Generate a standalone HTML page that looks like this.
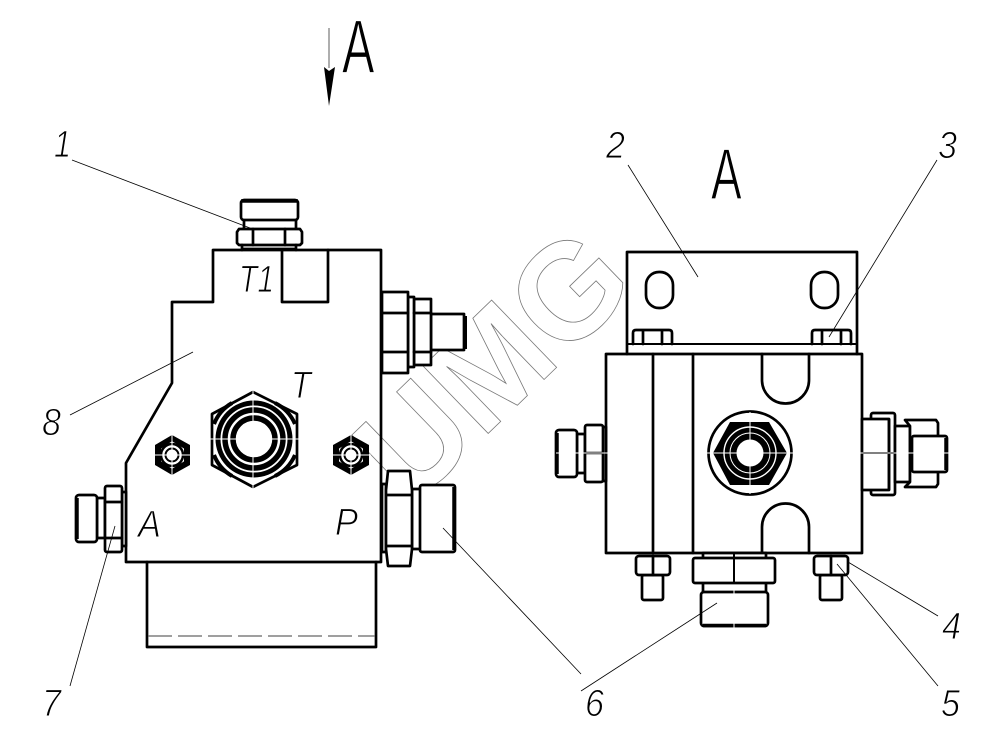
<!DOCTYPE html>
<html><head><meta charset="utf-8"><style>
html,body{margin:0;padding:0;background:#fff;width:998px;height:746px;overflow:hidden}
svg{display:block}
.t{font-family:"Liberation Sans",sans-serif;font-style:italic;fill:#000;stroke:#fff;stroke-width:1}
.b{font-family:"Liberation Sans",sans-serif;fill:#000;stroke:#fff;stroke-width:1.2}
.m{fill:none;stroke:#000;stroke-width:2.7;stroke-linejoin:round;stroke-linecap:round}
.w{fill:#fff;stroke:#000;stroke-width:2.7;stroke-linejoin:round}
.l{fill:none;stroke:#000;stroke-width:.8}
.c{fill:none;stroke:#fff;stroke-width:1}
</style></head><body>
<svg width="998" height="746" viewBox="0 0 998 746" xmlns="http://www.w3.org/2000/svg">
<!-- watermark -->
<text transform="translate(411,508) rotate(-44)" font-family="Liberation Sans, sans-serif" font-weight="700" font-size="136" fill="none" stroke="#777" stroke-width=".8">UMG</text>

<!-- arrow -->
<line x1="329" y1="28" x2="329" y2="68" stroke="#777" stroke-width="1.2"/>
<polygon points="324,67 329,71 335,67 329,106" fill="#000"/>
<text class="b" transform="translate(342,73) scale(.64,1)" font-size="76">A</text>
<text class="b" transform="translate(711,199) scale(.64,1)" font-size="72">A</text>

<!-- LEFT VIEW -->
<path class="m" d="M213,250H381V562H126V463L172,383V302H213Z"/>
<path class="m" d="M282,250V302H328V250"/>
<path class="m" d="M147,562V647H376V562"/>
<line x1="148" y1="636" x2="375" y2="636" stroke="#666" stroke-width="1.2" stroke-dasharray="24,6"/>

<!-- top fitting -->
<rect class="w" x="244" y="219" width="52" height="11"/>
<rect class="w" x="241" y="200" width="57" height="20" rx="3"/>
<line x1="241" y1="201" x2="298" y2="201" stroke="#000" stroke-width="3.5"/>
<path class="w" d="M239,229H300L302,232V243L300,245H239L237,243V232Z"/>
<path class="m" d="M253,229V245M285,229V245M242,245V250M296,245V250M242,249H296"/>

<!-- right upper fitting -->
<rect class="w" x="431" y="314" width="33" height="36"/>
<line x1="465" y1="316" x2="465" y2="349" stroke="#000" stroke-width="4"/>
<rect class="w" x="414" y="299" width="17" height="66"/>
<rect class="w" x="408" y="297" width="6" height="70"/>
<rect class="w" x="382" y="292" width="26" height="81"/>
<path class="m" d="M382,313H408M382,352H408M414,313H431M414,352H431"/>

<!-- A fitting -->
<rect class="w" x="97" y="498" width="8" height="40"/>
<rect class="w" x="76" y="495" width="21" height="47" rx="3"/>
<line x1="77" y1="498" x2="77" y2="539" stroke="#000" stroke-width="3.5"/>
<rect class="w" x="122" y="492" width="4" height="54"/>
<rect class="w" x="105" y="486" width="17" height="66" rx="2"/>
<path class="m" d="M105,502H122M105,538H122"/>

<!-- P fitting -->
<rect class="w" x="382" y="484" width="4" height="68"/>
<rect class="w" x="412" y="489" width="9" height="60"/>
<rect class="w" x="420" y="485" width="35" height="67" rx="2"/>
<line x1="454" y1="487" x2="454" y2="550" stroke="#000" stroke-width="3.5"/>
<path class="w" d="M388,471H410L412,490V549L410,566H388L386,549V490Z"/>
<path class="m" d="M387,495H411M387,546H411"/>

<!-- big hex T -->
<polygon class="w" points="253,392 297,414 297,465 253,487 212,465 212,414" stroke-width="2.5"/>
<path d="M214,424A42,42 0 0 1 232,403M275,403A42,42 0 0 1 295,424M295,455A42,42 0 0 1 275,476M232,476A42,42 0 0 1 214,455" fill="none" stroke="#000" stroke-width="4"/>
<circle cx="254" cy="439" r="36" fill="none" stroke="#000" stroke-width="5"/>
<circle cx="254" cy="439" r="29" fill="none" stroke="#000" stroke-width="5.5"/>
<circle cx="254" cy="439" r="21" fill="none" stroke="#000" stroke-width="5.5"/>
<path class="c" d="M253,388V490M208,439H300"/>

<!-- small hexes -->
<g>
<polygon points="172,435 190,445 190,465 172,475 155,465 155,445" fill="#000"/>
<polygon points="172,440 185,448 185,462 172,470 160,462 160,448" fill="#fff" stroke="#000" stroke-width="2"/>
<circle cx="172" cy="455" r="11" fill="none" stroke="#000" stroke-width="2.5"/>
<circle cx="172" cy="455" r="6.5" fill="#fff" stroke="#000" stroke-width="2"/>
<path class="c" d="M172,433V477M153,455H192"/>
<polygon points="351,435 369,445 369,465 351,475 333,465 333,445" fill="#000"/>
<polygon points="351,440 364,448 364,462 351,470 338,462 338,448" fill="#fff" stroke="#000" stroke-width="2"/>
<circle cx="351" cy="455" r="11" fill="none" stroke="#000" stroke-width="2.5"/>
<circle cx="351" cy="455" r="6.5" fill="#fff" stroke="#000" stroke-width="2"/>
<path class="c" d="M351,433V477M332,455H371"/>
</g>

<!-- RIGHT VIEW -->
<path class="m" d="M627,354V252H857V354"/>
<line x1="628" y1="344" x2="857" y2="344" stroke="#000" stroke-width="2"/>
<rect class="m" x="606" y="354" width="256" height="199"/>
<path class="m" d="M653,354V553M693,354V553"/>
<rect class="m" x="646" y="272" width="27" height="36" rx="13"/>
<rect class="m" x="811" y="272" width="27" height="36" rx="13"/>
<path class="m" d="M633,344V333Q633,330 636,330H669Q672,330 672,333V344M643,331V344M662,331V344"/>
<path class="m" d="M812,344V333Q812,330 815,330H848Q851,330 851,333V344M822,331V344M841,331V344"/>
<path class="m" d="M762,354V380A23,23 0 0 0 809,380V354"/>
<path class="m" d="M762,553V527A23,23 0 0 1 809,527V553"/>

<!-- center fitting -->
<circle cx="750" cy="453" r="41.5" fill="#fff" stroke="#000" stroke-width="2.7"/>
<polygon points="713,453 730,422 769,422 787,453 769,485 730,485" fill="#000"/>
<circle cx="750" cy="453" r="26" fill="none" stroke="#fff" stroke-width="1.4"/>
<circle cx="750" cy="453" r="20" fill="none" stroke="#fff" stroke-width="1"/>
<circle cx="750" cy="453" r="13.5" fill="#fff"/>
<path class="c" d="M750,412V494M706,453H794"/>

<!-- left fitting right view -->
<rect class="w" x="577" y="434" width="8" height="39"/>
<rect class="w" x="556" y="430" width="21" height="47" rx="3"/>
<line x1="557" y1="433" x2="557" y2="474" stroke="#000" stroke-width="3.5"/>
<rect class="w" x="603" y="427" width="3" height="54"/>
<rect class="w" x="585" y="425" width="18" height="57" rx="2"/>
<line x1="585" y1="453" x2="603" y2="453" stroke="#000" stroke-width="2.5"/>

<!-- right fitting right view -->
<rect class="w" x="871" y="413" width="24" height="82" rx="2"/>
<rect class="w" x="862" y="419" width="27" height="71"/>
<line x1="889" y1="419" x2="889" y2="490" stroke="#000" stroke-width="2.7"/>
<line x1="862" y1="453" x2="895" y2="453" stroke="#000" stroke-width="2"/>
<rect class="w" x="895" y="426" width="15" height="56"/>
<path class="w" d="M905,420H936L938,423V484L936,487H905L910,482V426Z"/>
<rect class="w" x="912" y="436" width="35" height="36" rx="2"/>
<line x1="946" y1="438" x2="946" y2="470" stroke="#000" stroke-width="3.5"/>
<path class="c" d="M860,453H950M556,453H608"/>

<!-- bottom bolts -->
<rect class="w" x="642" y="575" width="21" height="25" rx="2"/>
<rect class="w" x="636" y="556" width="34" height="19" rx="3"/>
<rect class="w" x="820" y="575" width="22" height="25" rx="2"/>
<rect class="w" x="814" y="556" width="34" height="19" rx="3"/>
<path class="m" d="M653,556V575M831,556V575"/>

<!-- bottom center fitting -->
<rect class="w" x="703" y="553" width="63" height="6"/>
<rect class="w" x="703" y="582" width="63" height="11"/>
<rect class="w" x="693" y="558" width="82" height="25" rx="2"/>
<rect class="w" x="701" y="592" width="67" height="34" rx="3"/>
<line x1="703" y1="625.5" x2="766" y2="625.5" stroke="#000" stroke-width="3.5"/>
<line x1="734" y1="553" x2="734" y2="583" stroke="#000" stroke-width="2"/>
<path class="c" d="M734,590V630"/>

<!-- leaders -->
<path class="l" d="M72,160L250,228"/>
<path class="l" d="M628,165L698,277"/>
<path class="l" d="M937,160L829,337"/>
<path class="l" d="M70,415L193,352"/>
<path class="l" d="M70,686L115,526"/>
<path class="l" d="M443,528L581,674"/>
<path class="l" d="M717,603L581,691"/>
<path class="l" d="M848,562L938,616"/>
<path class="l" d="M837,564L938,686"/>

<!-- labels -->
<g font-size="38">
<text class="t" x="54" y="157" textLength="17" lengthAdjust="spacingAndGlyphs">1</text>
<text class="t" x="606" y="158" textLength="19" lengthAdjust="spacingAndGlyphs">2</text>
<text class="t" x="938" y="158" textLength="19" lengthAdjust="spacingAndGlyphs">3</text>
<text class="t" x="42" y="435" textLength="19" lengthAdjust="spacingAndGlyphs">8</text>
<text class="t" x="42" y="716" textLength="19" lengthAdjust="spacingAndGlyphs">7</text>
<text class="t" x="585" y="716" textLength="19" lengthAdjust="spacingAndGlyphs">6</text>
<text class="t" x="942" y="639" textLength="19" lengthAdjust="spacingAndGlyphs">4</text>
<text class="t" x="941" y="716" textLength="19" lengthAdjust="spacingAndGlyphs">5</text>
<text class="t" x="239" y="292" textLength="35" lengthAdjust="spacingAndGlyphs">T1</text>
<text class="t" x="291" y="398" textLength="20" lengthAdjust="spacingAndGlyphs">T</text>
<text class="t" x="138" y="537" textLength="23" lengthAdjust="spacingAndGlyphs">A</text>
<text class="t" x="335" y="535" textLength="23" lengthAdjust="spacingAndGlyphs">P</text>
</g>
</svg>
</body></html>
